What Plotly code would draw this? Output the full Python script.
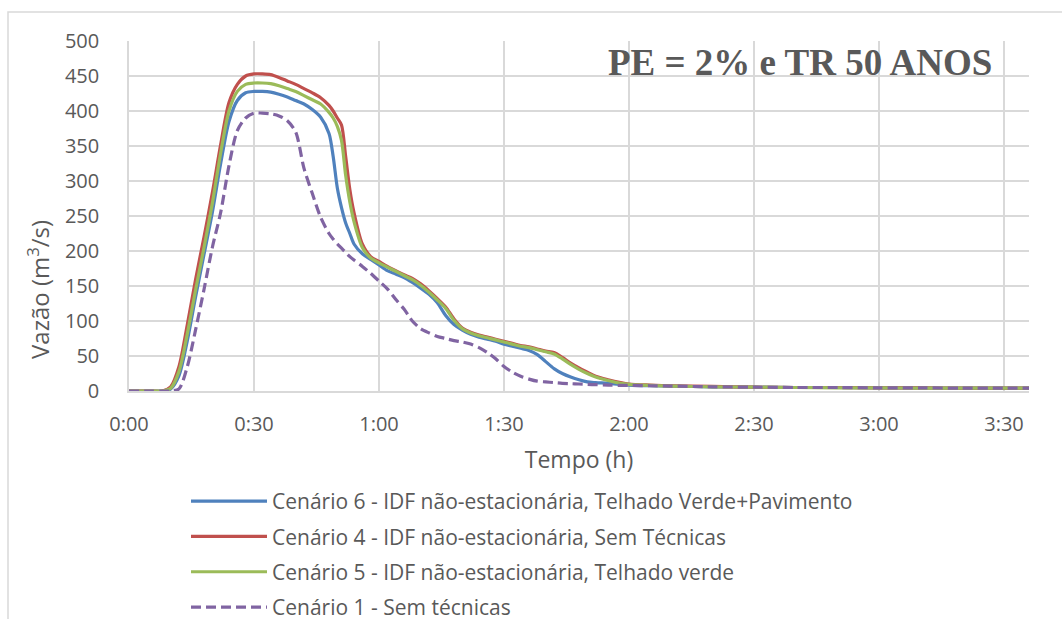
import plotly.graph_objects as go

# Time (minutes since start of the event)
tempo_min = [0, 5, 8, 10, 12, 14, 16, 18, 20, 22, 24, 26, 28, 30, 32, 34, 36, 38, 40,
             42, 44, 46, 48, 49, 50, 51, 52, 53, 54, 56, 58, 60, 62, 64, 66, 68, 70,
             72, 74, 76, 78, 80, 82, 84, 86, 88, 90, 92, 94, 96, 98, 100, 102, 104,
             106, 108, 110, 112, 115, 118, 120, 125, 130, 140, 150, 160, 170, 180,
             190, 200, 210, 216]

# Discharge (m3/s) per scenario
cenario6 = [0, 0, 0, 3, 22, 72, 135, 195, 255, 325, 385, 415, 426, 428, 428, 427, 424, 420, 415,
            410, 402, 391, 368, 335, 290, 262, 240, 225, 210, 196, 188, 180, 172, 167, 162, 155, 147,
            138, 126, 108, 95, 87, 81, 77, 74, 71, 67, 64, 61, 58, 52, 42, 32, 25,
            20, 16, 13, 12, 11, 9.5, 8.5, 7.5, 7, 6, 5.5, 5, 5, 4.5,
            4.5, 4, 4, 4]
cenario4 = [0, 0, 0, 6, 35, 95, 160, 220, 283, 352, 412, 438, 450, 453, 453, 452, 448, 443, 438,
            432, 426, 419, 408, 400, 390, 380, 335, 288, 255, 210, 192, 185, 178, 172, 166, 161, 153,
            143, 132, 120, 103, 90, 84, 80, 77, 74, 71, 68, 65, 63, 60, 57, 55, 48,
            40, 33, 27, 21, 16, 12, 10, 8.5, 7.5, 6.5, 5.5, 5, 5, 4.5,
            4.5, 4, 4, 4]
cenario5 = [0, 0, 0, 4, 28, 82, 145, 205, 268, 340, 400, 428, 438, 440, 440, 439, 436, 432, 428,
            422, 416, 410, 398, 390, 378, 358, 308, 270, 242, 205, 190, 183, 177, 171, 165, 159, 151,
            141, 130, 118, 101, 89, 83, 79, 76, 73, 70, 67, 64, 62, 59, 56, 53, 46,
            38, 31, 25, 20, 15, 11, 9.5, 8, 7, 6, 5.5, 5, 4.5, 4.5,
            4, 4, 4, 4]
cenario1 = [0, 0, 0, 0, 3, 35, 88, 145, 205, 255, 322, 372, 390, 397, 397, 396, 393, 386, 370,
            318, 282, 248, 225, 217, 210, 204, 198, 192, 187, 178, 168, 157, 146, 131, 117, 100, 89,
            83, 78, 75, 72, 70, 67, 62, 55, 46, 35, 27, 21, 17, 14, 13, 12, 11,
            10.5, 10, 9.5, 9, 8.5, 8, 8, 7.5, 7, 6, 5.5, 5, 5, 4.5,
            4.5, 4, 4, 4]

series = [
    ("Cenário 6 - IDF não-estacionária, Telhado Verde+Pavimento", cenario6, "#4F81BD", "solid"),
    ("Cenário 4 - IDF não-estacionária, Sem Técnicas", cenario4, "#C0504D", "solid"),
    ("Cenário 5 - IDF não-estacionária, Telhado verde", cenario5, "#9BBB59", "solid"),
    ("Cenário 1 - Sem técnicas", cenario1, "#8064A2", "10px,5px"),
]

tick_vals = [0, 30, 60, 90, 120, 150, 180, 210]
tick_text = ["0:00", "0:30", "1:00", "1:30", "2:00", "2:30", "3:00", "3:30"]

FONT = "Open Sans"
GREY = "#595959"
GRID = "#d9d9d9"

# plot area in pixels: x 129..1029, y 41..391
PX_L, PX_W, PX_B, PX_H = 129, 900, 391, 350


def px_x(px):
    return (px - PX_L) / PX_W


def px_y(py):
    return (PX_B - py) / PX_H


fig = go.Figure()
for i, (name, vals, color, dash) in enumerate(series):
    fig.add_trace(go.Scatter(
        x=tempo_min, y=vals, name=name, mode="lines",
        line=dict(color=color, width=3.2, dash=dash, shape="spline", smoothing=0.8),
        legendgroup=f"g{i}",
    ))

fig.update_layout(
    width=1062, height=619,
    margin=dict(l=129, r=33, t=41, b=228, autoexpand=False),
    paper_bgcolor="white", plot_bgcolor="white",
    font=dict(family=FONT, size=20, color=GREY),
    showlegend=True,
    legend=dict(
        x=px_x(186), y=px_y(481), xanchor="left", yanchor="top",
        traceorder="grouped", tracegroupgap=5,
        font=dict(family=FONT, size=21, color=GREY),
        itemwidth=76, bgcolor="rgba(0,0,0,0)",
    ),
    xaxis=dict(
        range=[0, 216], tickvals=tick_vals, ticktext=tick_text,
        showgrid=True, gridcolor=GRID, gridwidth=1.5,
        showline=True, linecolor=GRID, linewidth=1.5,
        zeroline=False, ticks="", ticklabelstandoff=14, automargin=False,
        tickfont=dict(family=FONT, size=20, color=GREY),
        title=dict(text="Tempo (h)", font=dict(family=FONT, size=23, color=GREY), standoff=16),
    ),
    yaxis=dict(
        range=[0, 500], dtick=50,
        showgrid=True, gridcolor=GRID, gridwidth=1.5,
        showline=True, linecolor=GRID, linewidth=1.5,
        zeroline=False, ticks="", ticklabelstandoff=24, automargin=False,
        tickfont=dict(family=FONT, size=20, color=GREY),
    ),
    shapes=[dict(
        type="rect", xref="paper", yref="paper",
        x0=px_x(8), x1=1.2, y0=-0.8, y1=px_y(12),
        line=dict(color=GRID, width=1.5), fillcolor="rgba(0,0,0,0)", layer="below",
    )],
    annotations=[
        dict(text="Vazão (m<sup>3</sup>/s)", xref="paper", yref="paper",
             x=px_x(38), y=px_y(290), textangle=-90,
             showarrow=False, xanchor="center", yanchor="middle",
             font=dict(family=FONT, size=24, color=GREY)),
        dict(text="<b>PE = 2% e TR 50 ANOS</b>", xref="paper", yref="paper",
             x=px_x(800), y=px_y(62), showarrow=False,
             xanchor="center", yanchor="middle",
             font=dict(family="Liberation Serif", size=37, color=GREY)),
    ],
)

fig.write_html("out.html")
